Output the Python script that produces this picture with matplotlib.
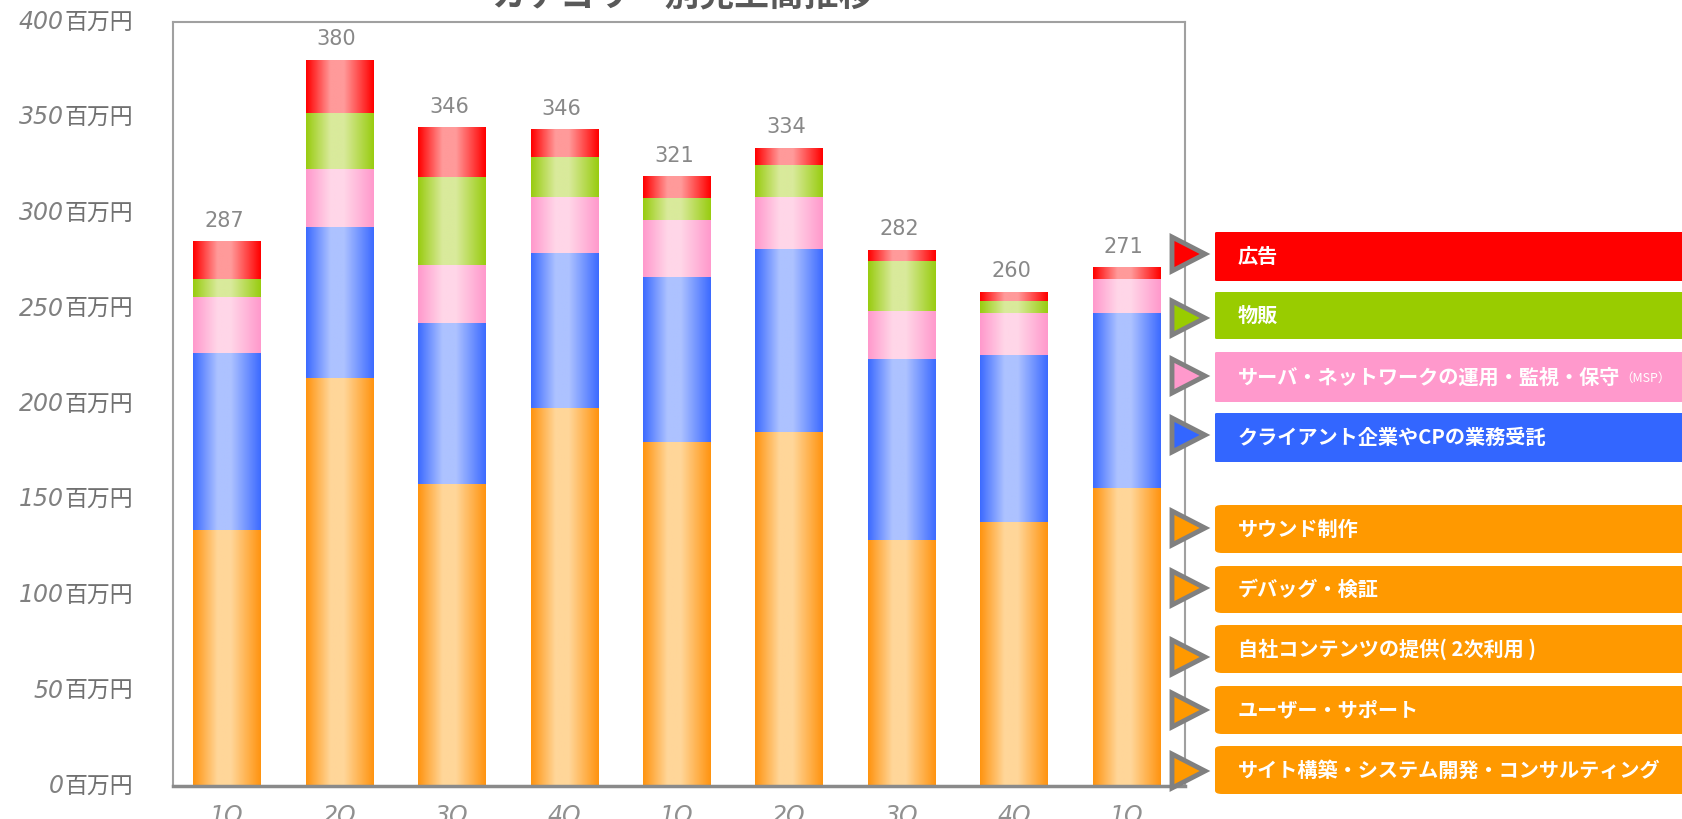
import numpy as np
import matplotlib
matplotlib.use('Agg')
import matplotlib.pyplot as plt
from matplotlib import transforms
from matplotlib.patches import Polygon, FancyBboxPatch
from matplotlib.colors import to_rgb
from matplotlib.text import Annotation

plt.rcParams['font.family'] = ['Noto Sans CJK JP', 'DejaVu Sans']

# ---- data (百万円) ----
quarters = ['1Q', '2Q', '3Q', '4Q', '1Q', '2Q', '3Q', '4Q', '1Q']
totals = [287, 380, 346, 346, 321, 334, 282, 260, 271]

# stacked bottom -> top
orange = [134.0, 213.6, 158.1, 197.9, 180.1, 185.3, 128.8, 138.2, 156.0]
blue = [92.7, 79.1, 84.3, 81.2, 86.4, 95.9, 94.8, 87.5, 91.6]
pink = [29.3, 30.3, 30.4, 29.3, 29.6, 27.2, 25.1, 21.9, 17.8]
green = [9.4, 29.5, 46.0, 20.9, 11.5, 16.7, 26.2, 6.3, 0.0]
red = [19.4, 27.6, 25.7, 14.2, 11.0, 8.9, 5.7, 4.7, 5.8]

yticks = [0, 50, 100, 150, 200, 250, 300, 350, 400]

legend_labels = ['広告', '物販', 'サーバ・ネットワークの運用・監視・保守',
                 'クライアント企業やCPの業務受託', 'サウンド制作', 'デバッグ・検証',
                 '自社コンテンツの提供( 2次利用 )', 'ユーザー・サポート',
                 'サイト構築・システム開発・コンサルティング']

# ---- style ----
W, H = 1682, 819
# (edge colour, light centre colour)
shades = {
    'orange': ('#FF9410', '#FFD699'),
    'blue': ('#3D6BFF', '#ADC2FF'),
    'pink': ('#FF99CC', '#FFD6E8'),
    'green': ('#99CC11', '#D9EA9B'),
    'red': ('#FF0000', '#FF9A9A'),
}
legend_colors = ['#FF0000', '#99CC00', '#FF99CC', '#3366FF'] + ['#FF9900'] * 5
# legend layout in pixels: (box top, box bottom, triangle centre)
legend_rows = [(232, 281, 254), (292, 339, 318), (352, 402, 376), (413, 462, 435),
               (505, 553, 528), (566, 613, 588), (625, 673, 657), (686, 734, 710),
               (746, 794, 771)]


def fx(px):
    return px / W


def fy(py):
    return 1 - py / H


def gradient_row(edge, light, n=80):
    t = np.linspace(0, 1, n)
    w = np.where(t < 0.45, t / 0.45, (1 - t) / 0.55)
    w = np.clip(w * 1.25, 0, 1)
    e = np.array(to_rgb(edge))
    l = np.array(to_rgb(light))
    return (e[None] * (1 - w[:, None]) + l[None] * w[:, None])[None]


fig = plt.figure(figsize=(W / 100, H / 100), dpi=100)
ax = fig.add_axes([fx(173), fy(786), fx(1185) - fx(173), fy(22) - fy(786)])

x = np.arange(len(quarters))
bar_w = 0.6
bottom = np.zeros(len(quarters))
for name, vals in [('orange', orange), ('blue', blue), ('pink', pink),
                   ('green', green), ('red', red)]:
    bars = ax.bar(x, vals, bar_w, bottom=bottom, color='none', linewidth=0)
    grad = gradient_row(*shades[name])
    for r in bars:
        if r.get_height() <= 0:
            continue
        ax.imshow(grad, extent=(r.get_x(), r.get_x() + r.get_width(),
                                r.get_y(), r.get_y() + r.get_height()),
                  aspect='auto', interpolation='bilinear', zorder=2)
    bottom += np.array(vals)

for i, (top, lab) in enumerate(zip(bottom, totals)):
    ax.annotate(str(lab), (i, top), xytext=(-2, 8), textcoords='offset points',
                ha='center', va='bottom', fontsize=15, color='#888888',
                family='DejaVu Sans')

ax.set_xlim(-0.48, 8.52)
ax.set_ylim(0, 400)
ax.set_yticks(yticks)
ax.set_yticklabels([])
ax.tick_params(axis='y', length=0)
ax.set_xticks(x)
ax.set_xticklabels(quarters, fontsize=17, style='italic', color='#909090',
                   family='DejaVu Sans')
ax.tick_params(axis='x', length=0, pad=13)

for s in ax.spines.values():
    s.set_color('#a0a0a0')
    s.set_linewidth(1.5)
ax.spines['bottom'].set_color('#8a8a8a')
ax.spines['bottom'].set_linewidth(2.5)

# y labels: italic number + 百万円
tr = transforms.blended_transform_factory(fig.transFigure, ax.transData)
for v in yticks:
    ax.text(fx(64), v, str(v), transform=tr, ha='right', va='center',
            fontsize=17, style='italic', color='#808080', family='DejaVu Sans')
    ax.text(fx(65), v, '百万円', transform=tr, ha='left', va='center',
            fontsize=16.5, color='#707070')

fig.text(fx(682), fy(13), 'カテゴリー別売上高推移', ha='center', va='bottom',
         fontsize=25, fontweight='bold', color='#595959')

# legend boxes with arrow markers on the right spine
for lab, col, (top, bot, tc) in zip(legend_labels, legend_colors, legend_rows):
    rounding = 7 if col == '#FF9900' else 2
    box = FancyBboxPatch((fx(1215), fy(bot)), fx(1700) - fx(1215), fy(top) - fy(bot),
                         boxstyle=f'round,pad=0,rounding_size={rounding / W}',
                         transform=fig.transFigure, facecolor=col, edgecolor='none')
    fig.patches.append(box)
    t = fig.text(fx(1238), fy((top + bot) / 2), lab, ha='left', va='center',
                 fontsize=14.5, fontweight='bold', color='white', zorder=5)
    if lab.startswith('サーバ'):
        msp = Annotation('（MSP）', xy=(1.0, 0.42), xycoords=t, ha='left',
                         va='center', fontsize=9, color='white', zorder=6)
        fig.add_artist(msp)
    tri = Polygon([(fx(1172), fy(tc - 17)), (fx(1172), fy(tc + 17)), (fx(1205), fy(tc))],
                  closed=True, transform=fig.transFigure, facecolor=col,
                  edgecolor='#808080', linewidth=3.5, joinstyle='miter')
    fig.patches.append(tri)

fig.savefig('out.png', dpi=100)
